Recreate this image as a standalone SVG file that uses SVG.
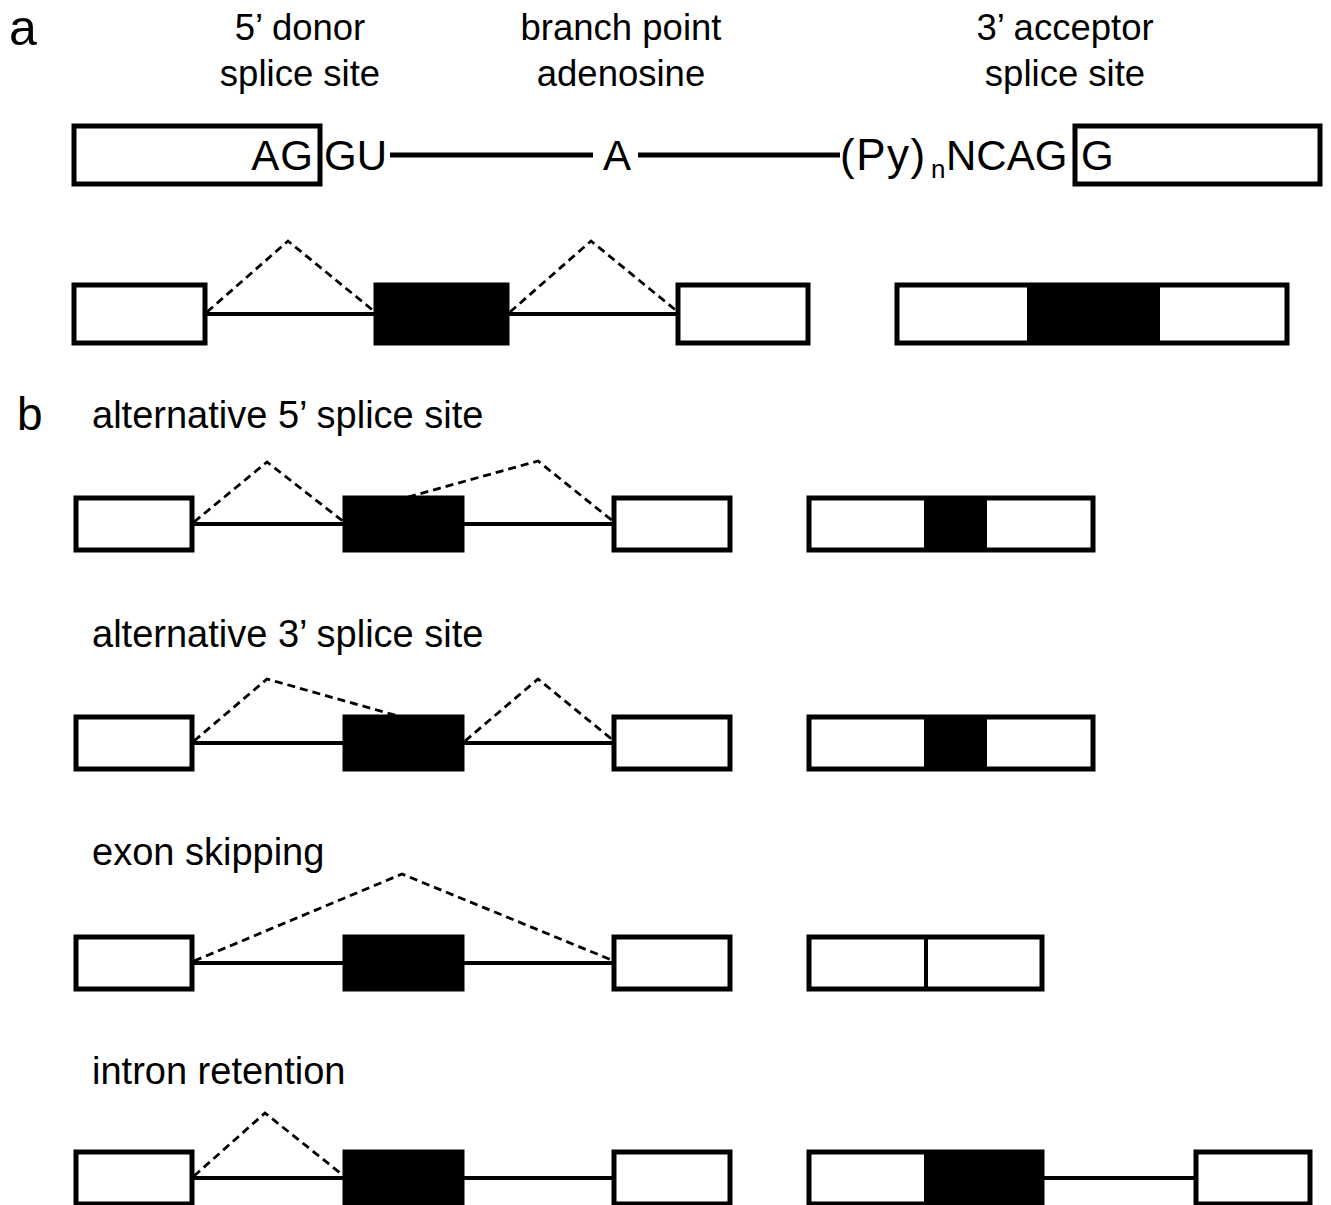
<svg xmlns="http://www.w3.org/2000/svg" width="1331" height="1205" viewBox="0 0 1331 1205">
<style>
text{font-family:"Liberation Sans",Arial,sans-serif;fill:#000}
.lbl{font-size:36.5px;text-anchor:middle}
.blbl{font-size:38px}
.seq{font-size:42px}
.panel{font-size:50px}
.ex{fill:#fff;stroke:#000;stroke-width:5}
.exb{fill:#000;stroke:#000;stroke-width:5}
.intron{stroke:#000;stroke-width:4;fill:none}
.seqline{stroke:#000;stroke-width:5;fill:none}
.splice{stroke:#000;stroke-width:2.8;stroke-dasharray:8 5;fill:none}
</style>
<rect width="1331" height="1205" fill="#fff"/>

<!-- panel labels -->
<text class="panel" x="9" y="45">a</text>
<text class="panel" x="17" y="430" style="font-size:46px">b</text>

<!-- section a labels -->
<g id="label-donor"><text class="lbl" x="300" y="40">5’ donor</text><text class="lbl" x="300" y="86">splice site</text></g>
<g id="label-branch"><text class="lbl" x="621" y="40">branch point</text><text class="lbl" x="621" y="86">adenosine</text></g>
<g id="label-acceptor"><text class="lbl" x="1065" y="40">3’ acceptor</text><text class="lbl" x="1065" y="86">splice site</text></g>

<!-- sequence row -->
<g id="seq-exon1"><rect class="ex" x="74" y="126" width="246" height="58"/><text class="seq" x="314" y="170" text-anchor="end" letter-spacing="1">AG</text></g>
<g id="seq-gu"><text class="seq" x="324" y="170">GU</text></g>
<g id="seq-a"><text class="seq" x="617" y="170" text-anchor="middle">A</text></g>
<g id="seq-py"><text class="seq" x="840" y="170"><tspan style="font-size:44px" letter-spacing="1.5">(Py)</tspan><tspan x="931" y="178" style="font-size:26px">n</tspan><tspan x="946" y="170">NCAG</tspan></text></g>
<g id="seq-exon2"><rect class="ex" x="1075" y="126" width="245" height="58"/><text class="seq" x="1081" y="170">G</text></g>

<g id="connectors">
<!-- sequence lines -->
<line class="seqline" x1="390" y1="155" x2="593" y2="155"/>
<line class="seqline" x1="638" y1="155" x2="840" y2="155"/>

<!-- section a gene -->
<line class="intron" x1="205" y1="314" x2="375" y2="314"/>
<line class="intron" x1="508" y1="314" x2="678" y2="314"/>
<polyline class="splice" points="207,312 288,241 375,312"/>
<polyline class="splice" points="510,312 591,241 678,312"/>

<!-- row 1 -->
<line class="intron" x1="192" y1="524" x2="344" y2="524"/>
<line class="intron" x1="463" y1="524" x2="614" y2="524"/>
<polyline class="splice" points="194,522 267,462 344,522"/>
<polyline class="splice" points="408,497 538,461 614,522"/>

<!-- row 2 -->
<line class="intron" x1="192" y1="743" x2="344" y2="743"/>
<line class="intron" x1="463" y1="743" x2="614" y2="743"/>
<polyline class="splice" points="194,741 267,679 398,716"/>
<polyline class="splice" points="465,741 538,679 614,741"/>

<!-- row 3 -->
<line class="intron" x1="192" y1="963" x2="344" y2="963"/>
<line class="intron" x1="463" y1="963" x2="614" y2="963"/>
<polyline class="splice" points="194,961 402,874 614,961"/>

<!-- row 4 -->
<line class="intron" x1="192" y1="1178" x2="344" y2="1178"/>
<line class="intron" x1="463" y1="1178" x2="614" y2="1178"/>
<polyline class="splice" points="194,1176 265,1113 344,1176"/>
<line class="intron" x1="1042" y1="1178" x2="1196" y2="1178"/>
</g>

<!-- section a gene nodes -->
<g id="a-exon1"><rect class="ex" x="74" y="285" width="131" height="58"/></g>
<g id="a-exon2"><rect class="exb" x="376" y="285" width="131" height="58"/></g>
<g id="a-exon3"><rect class="ex" x="678" y="285" width="130" height="58"/></g>
<g id="a-mrna"><rect class="ex" x="897" y="285" width="390" height="58"/><rect x="1027" y="285" width="133" height="58" fill="#000"/></g>

<!-- row 1 -->
<text class="blbl" x="92" y="428">alternative 5’ splice site</text>
<g id="r1-exon1"><rect class="ex" x="76" y="498" width="116" height="52"/></g>
<g id="r1-exon2"><rect class="exb" x="345" y="498" width="117" height="52"/></g>
<g id="r1-exon3"><rect class="ex" x="614" y="498" width="116" height="52"/></g>
<g id="r1-mrna"><rect class="ex" x="809" y="498" width="284" height="52"/><rect x="924" y="498" width="63" height="52" fill="#000"/></g>

<!-- row 2 -->
<text class="blbl" x="92" y="647">alternative 3’ splice site</text>
<g id="r2-exon1"><rect class="ex" x="76" y="717" width="116" height="52"/></g>
<g id="r2-exon2"><rect class="exb" x="345" y="717" width="117" height="52"/></g>
<g id="r2-exon3"><rect class="ex" x="614" y="717" width="116" height="52"/></g>
<g id="r2-mrna"><rect class="ex" x="809" y="717" width="284" height="52"/><rect x="924" y="717" width="63" height="52" fill="#000"/></g>

<!-- row 3 -->
<text class="blbl" x="92" y="865">exon skipping</text>
<g id="r3-exon1"><rect class="ex" x="76" y="937" width="116" height="52"/></g>
<g id="r3-exon2"><rect class="exb" x="345" y="937" width="117" height="52"/></g>
<g id="r3-exon3"><rect class="ex" x="614" y="937" width="116" height="52"/></g>
<g id="r3-mrna"><rect class="ex" x="809" y="937" width="233" height="52"/><line x1="926" y1="937" x2="926" y2="989" stroke="#000" stroke-width="4"/></g>

<!-- row 4 -->
<text class="blbl" x="92" y="1084">intron retention</text>
<g id="r4-exon1"><rect class="ex" x="76" y="1152" width="116" height="52"/></g>
<g id="r4-exon2"><rect class="exb" x="345" y="1152" width="117" height="52"/></g>
<g id="r4-exon3"><rect class="ex" x="614" y="1152" width="116" height="52"/></g>
<g id="r4-mrna1"><rect class="ex" x="809" y="1152" width="233" height="52"/><rect x="924" y="1152" width="118" height="52" fill="#000"/></g>
<g id="r4-mrna2"><rect class="ex" x="1196" y="1152" width="114" height="52"/></g>
</svg>
